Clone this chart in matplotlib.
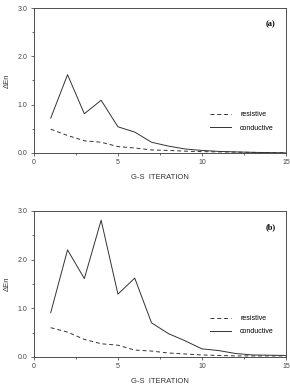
import numpy as np
import matplotlib
matplotlib.use('Agg')
import matplotlib.pyplot as plt
from matplotlib.ticker import MultipleLocator, FormatStrFormatter

plt.rcParams['font.family'] = ['Liberation Sans', 'DejaVu Sans']
plt.rcParams['font.size'] = 5

iterations = np.arange(1, 16)

# panel (a)
cond_a = [0.72, 1.62, 0.81, 1.09, 0.54, 0.43, 0.22, 0.14, 0.08, 0.05, 0.03, 0.02, 0.01, 0.005, 0.0]
res_a = [0.49, 0.36, 0.25, 0.22, 0.13, 0.10, 0.06, 0.05, 0.035, 0.025, 0.02, 0.015, 0.01, 0.005, 0.0]

# panel (b)
cond_b = [0.91, 2.20, 1.61, 2.81, 1.29, 1.62, 0.70, 0.48, 0.33, 0.165, 0.13, 0.07, 0.04, 0.035, 0.03]
res_b = [0.60, 0.51, 0.36, 0.27, 0.24, 0.14, 0.12, 0.08, 0.06, 0.04, 0.03, 0.02, 0.02, 0.02, 0.02]

panels = [('(a)', cond_a, res_a, [0.117, 0.603, 0.869, 0.376]),
          ('(b)', cond_b, res_b, [0.117, 0.073, 0.869, 0.379])]

fig = plt.figure(figsize=(2.9, 3.85), dpi=100)
col = '#333333'

for tag, cond, res, rect in panels:
    ax = fig.add_axes(rect)
    ax.plot(iterations, res, '--', color=col, lw=0.7, dashes=(4, 3), label='resistive')
    ax.plot(iterations, cond, '-', color=col, lw=0.7, label='conductive')
    ax.set_xlim(0, 15)
    ax.set_ylim(0, 3.0)
    ax.xaxis.set_major_locator(MultipleLocator(5))
    ax.xaxis.set_minor_locator(MultipleLocator(2.5))
    ax.yaxis.set_major_locator(MultipleLocator(1.0))
    ax.yaxis.set_minor_locator(MultipleLocator(0.5))
    ax.yaxis.set_major_formatter(FormatStrFormatter('%.1f'))
    ax.tick_params(which='major', length=2.5, width=0.5, pad=2, colors=col, labelcolor='#444444')
    ax.tick_params(which='minor', length=1.5, width=0.5, colors=col)
    for s in ax.spines.values():
        s.set_linewidth(0.6)
        s.set_color(col)
    ax.set_xlabel('G-S  ITERATION', fontsize=5.5, labelpad=6, color='#333333')
    ax.set_ylabel('\u0394En', fontsize=5.5, labelpad=5, color='#333333')
    ax.text(0.96, 0.89, tag, transform=ax.transAxes, ha='right', va='center',
            fontsize=6, fontweight='bold', family='Liberation Serif')
    ax.legend(loc='center left', bbox_to_anchor=(0.70, 0.217), frameon=False,
              borderpad=0, borderaxespad=0,
              handlelength=3.0, handletextpad=1.3, labelspacing=0.9, fontsize=5)

fig.savefig('out.png', dpi=100)
